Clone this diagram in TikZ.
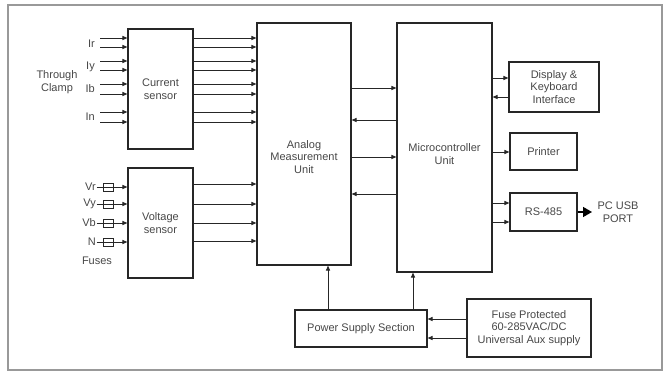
\documentclass[tikz,border=0pt]{standalone}
\usepackage{fontspec}
\setmainfont{Liberation Sans}
\usetikzlibrary{arrows.meta}
\begin{document}
\begin{tikzpicture}[x=1pt,y=-1pt,
  every node/.style={font=\fontsize{11}{12.5}\selectfont, text=black!72},
  box/.style={draw=black!85, line width=1.1pt, inner sep=0pt, align=center},
  txt/.style={align=center, inner sep=0pt},
  arr/.style={draw=black!85, line width=1pt, -{Triangle[length=5pt,width=4pt]}},
  ln/.style={draw=black!85, line width=1pt},
  fusebox/.style={draw=black!85, line width=0.9pt, minimum width=10pt, minimum height=8pt, inner sep=0pt},
  bigarr/.style={draw=black, line width=1.6pt, -{Triangle[length=9pt,width=10pt]}}
]
\useasboundingbox (0,0) rectangle (670,375);
\draw[gray!80, line width=1.3pt] (8,5) rectangle (662,370);

% boxes
\node[box, minimum width=65pt, minimum height=120pt] (cs) at (160.5,89) {Current\\sensor};
\node[box, minimum width=65pt, minimum height=110pt] (vs) at (160.5,223) {Voltage\\sensor};
\node[box, minimum width=94pt, minimum height=242pt] (amu) at (304,144) {};
\node[txt] (amut) at (304,157) {Analog\\Measurement\\Unit};
\node[box, minimum width=95pt, minimum height=249pt] (mcu) at (444.5,147.5) {};
\node[txt] (mcut) at (444.5,154) {Microcontroller\\Unit};
\node[box, minimum width=90pt, minimum height=50pt] (disp) at (554,87) {Display \&\\Keyboard\\Interface};
\node[box, minimum width=67pt, minimum height=37pt] (prn) at (543.5,151.5) {Printer};
\node[box, minimum width=67pt, minimum height=38pt] (rs) at (543.5,212) {RS-485};
\node[box, minimum width=132pt, minimum height=37pt] (pss) at (361,328.5) {Power Supply Section};
\node[box, line width=1.8pt, minimum width=124pt, minimum height=58pt] (fuse) at (529,328) {Fuse Protected\\60-285VAC/DC\\Universal Aux supply};

% current inputs
\node[txt, anchor=east] (ir) at (95,44) {Ir};
\node[txt, anchor=east] (iy) at (95,67) {Iy};
\node[txt, anchor=east] (ib) at (95,89) {Ib};
\node[txt, anchor=east] (in) at (95,117) {In};
\node[txt] (clamp) at (57,82) {Through\\Clamp};
\foreach \y [count=\i] in {38,47,61,70,84,94,112,122} {
  \coordinate (ci\i) at (100,\y);
  \draw[arr] (ci\i) -- (cs.west |- ci\i);
  \draw[arr] (cs.east |- ci\i) -- (amu.west |- ci\i);
}

% voltage inputs
\foreach \y/\lab [count=\i] in {187/Vr,204/Vy,223/Vb,242/N} {
  \node[txt, anchor=east] (v\i) at (96,\y) {\lab};
  \draw[arr] (v\i.east) ++(0.5,0) -- (vs.west |- v\i);
  \node[fusebox] (f\i) at (108,\y) {};
}
\node[txt] (fuses) at (97,261) {Fuses};
\foreach \y [count=\i] in {184,204,223,241} {
  \coordinate (vo\i) at (200,\y);
  \draw[arr] (vs.east |- vo\i) -- (amu.west |- vo\i);
}

% AMU <-> MCU
\coordinate (m1) at (370,88);
\coordinate (m2) at (370,120);
\coordinate (m3) at (370,157);
\coordinate (m4) at (370,194);
\draw[arr] (amu.east |- m1) -- (mcu.west |- m1);
\draw[arr] (mcu.west |- m2) -- (amu.east |- m2);
\draw[arr] (amu.east |- m3) -- (mcu.west |- m3);
\draw[arr] (mcu.west |- m4) -- (amu.east |- m4);

% MCU <-> peripherals
\coordinate (d1) at (500,78);
\coordinate (d2) at (500,97);
\coordinate (p1) at (500,152);
\coordinate (r1) at (500,203);
\coordinate (r2) at (500,222);
\draw[arr] (mcu.east |- d1) -- (disp.west |- d1);
\draw[arr] (disp.west |- d2) -- (mcu.east |- d2);
\draw[arr] (mcu.east |- p1) -- (prn.west |- p1);
\draw[arr] (mcu.east |- r1) -- (rs.west |- r1);
\draw[arr] (mcu.east |- r2) -- (rs.west |- r2);

% RS-485 -> PC
\coordinate (pc) at (592,212);
\draw[bigarr] (rs.east) -- (pc);
\node[txt] (pcusb) at (618,212) {PC USB\\PORT};

% power
\coordinate (pa) at (328,300);
\coordinate (pb) at (413,300);
\draw[arr] (pss.north -| pa) -- (amu.south -| pa);
\draw[arr] (pss.north -| pb) -- (mcu.south -| pb);
\coordinate (q1) at (450,319);
\coordinate (q2) at (450,338);
\draw[arr] (fuse.west |- q1) -- (pss.east |- q1);
\draw[arr] (fuse.west |- q2) -- (pss.east |- q2);
\end{tikzpicture}
\end{document}
